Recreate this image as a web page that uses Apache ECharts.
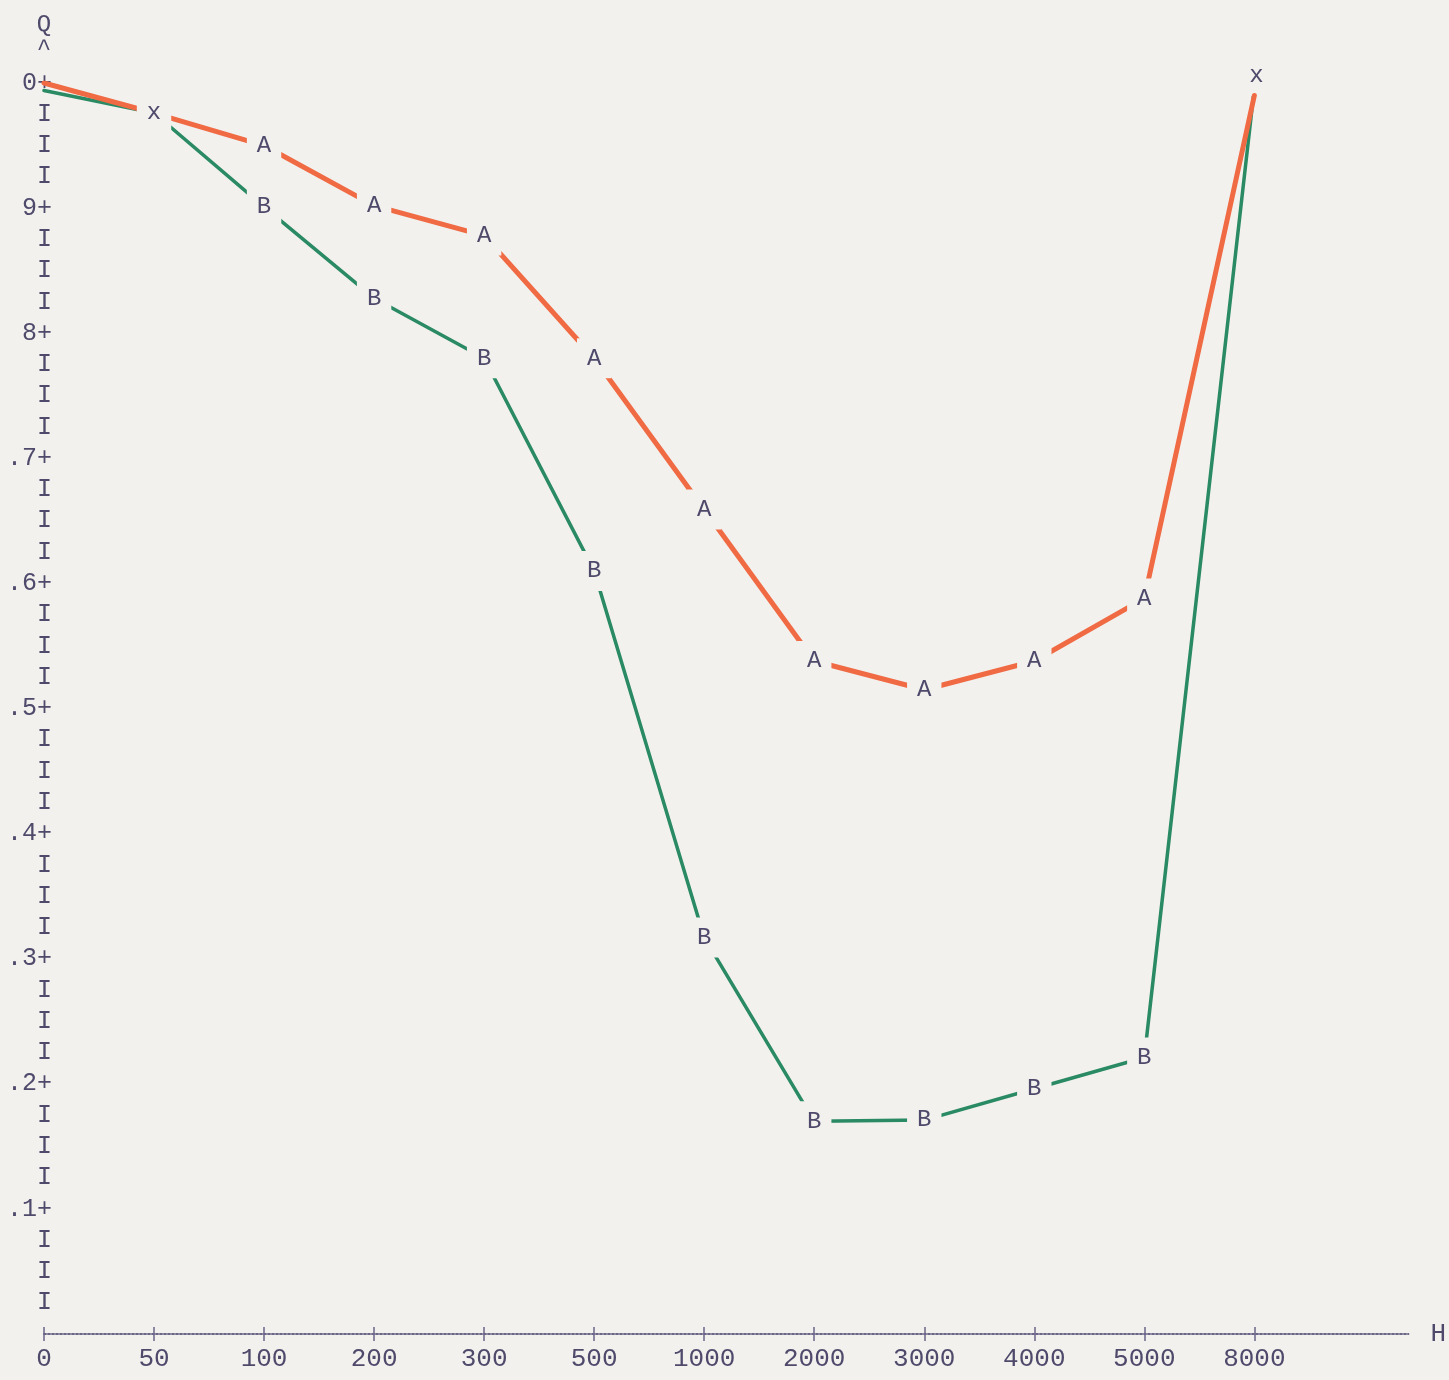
<!DOCTYPE html>
<html>
<head>
<meta charset="utf-8">
<script src="https://cdn.jsdelivr.net/npm/echarts@6/dist/echarts.min.js"></script>
<style>
  html, body { margin: 0; padding: 0; background: #f2f1ed; }
  #chart { width: 1449px; height: 1380px; }
</style>
</head>
<body>
<div id="chart"></div>
<script>
// Categories on the H axis
var xCategories = ['0', '50', '100', '200', '300', '500', '1000', '2000', '3000', '4000', '5000', '8000'];
// Q values
var seriesAValues = [1.0, 0.976, 0.950, 0.902, 0.878, 0.780, 0.659, 0.538, 0.515, 0.538, 0.588, 0.990];
var seriesBValues = [0.994, 0.976, 0.901, 0.828, 0.780, 0.610, 0.317, 0.170, 0.171, 0.196, 0.221, 0.996];
// Printed point markers
var seriesAMarks = ['', 'x', 'A', 'A', 'A', 'A', 'A', 'A', 'A', 'A', 'A', ''];
var seriesBMarks = ['', '', 'B', 'B', 'B', 'B', 'B', 'B', 'B', 'B', 'B', 'x'];
// Y tick labels for each tenth (index = tenths)
var yTickLabels = ['', '.1', '.2', '.3', '.4', '.5', '.6', '.7', '8', '9', '0'];

var PAPER = '#f2f1ed';
var INK = '#4f4a6b';
var MONO = '"Liberation Mono", "DejaVu Sans Mono", monospace';

function buildData(values, marks) {
  var last = values.length - 1;
  return values.map(function (v, i) {
    return {
      value: [i, v],
      label: {
        show: marks[i] !== '',
        formatter: marks[i] || ' ',
        offset: i === last ? [2, -12] : [0, 0]
      }
    };
  });
}

var labelStyle = {
  position: 'inside',
  color: INK,
  fontFamily: MONO,
  fontSize: 24,
  backgroundColor: PAPER,
  padding: [8, 10]
};

var tickIdx = xCategories.map(function (c, i) { return i; });

var chart = echarts.init(document.getElementById('chart'), null, { renderer: 'canvas' });
chart.setOption({
  backgroundColor: PAPER,
  animation: false,
  grid: { left: 44, right: 38, top: 83, bottom: 46, containLabel: false },
  xAxis: [{
    type: 'value',
    min: 0,
    max: 12.4,
    interval: 1,
    name: 'H',
    nameLocation: 'end',
    nameGap: 22,
    nameTextStyle: { color: INK, fontFamily: MONO, fontSize: 26, verticalAlign: 'middle' },
    axisLine: { show: true, lineStyle: { color: '#6b6688', type: 'dotted', width: 2 } },
    axisTick: { show: true, length: 7, customValues: tickIdx, lineStyle: { color: '#6b6688', width: 1.5 } },
    axisLabel: {
      color: INK, fontFamily: MONO, fontSize: 26, margin: 12,
      customValues: tickIdx,
      formatter: function (v) { return xCategories[Math.round(v)] || ''; }
    },
    splitLine: { show: false }
  }, {
    type: 'value',
    min: 0,
    max: 12.4,
    interval: 1,
    position: 'bottom',
    axisLine: { show: false },
    axisTick: { show: true, inside: true, length: 7, customValues: tickIdx, lineStyle: { color: '#6b6688', width: 1.5 } },
    axisLabel: { show: false },
    splitLine: { show: false }
  }],
  yAxis: {
    type: 'value',
    min: 0,
    max: 1,
    interval: 0.025,
    name: 'Q\n^',
    nameLocation: 'end',
    nameGap: 22,
    nameTextStyle: { color: INK, fontFamily: MONO, fontSize: 24, lineHeight: 24, align: 'center' },
    axisLine: { show: false },
    axisTick: { show: false },
    splitLine: { show: false },
    axisLabel: {
      color: INK, fontFamily: MONO, fontSize: 25, margin: -8,
      formatter: function (v) {
        var k = Math.round(v * 40);
        if (k === 0) return '';
        if (k % 4 === 0) return yTickLabels[k / 4] + '+';
        return 'I';
      }
    }
  },
  series: [{
    name: 'A',
    type: 'line',
    data: buildData(seriesAValues, seriesAMarks),
    symbol: 'circle',
    symbolSize: 1,
    itemStyle: { color: '#f06a44' },
    lineStyle: { color: '#f06a44', width: 5, cap: 'round' },
    label: labelStyle,
    z: 3
  }, {
    name: 'B',
    type: 'line',
    data: buildData(seriesBValues, seriesBMarks),
    symbol: 'circle',
    symbolSize: 1,
    itemStyle: { color: '#2a8a64' },
    lineStyle: { color: '#2a8a64', width: 3.5, cap: 'round' },
    label: labelStyle,
    z: 2
  }]
});
</script>
</body>
</html>
